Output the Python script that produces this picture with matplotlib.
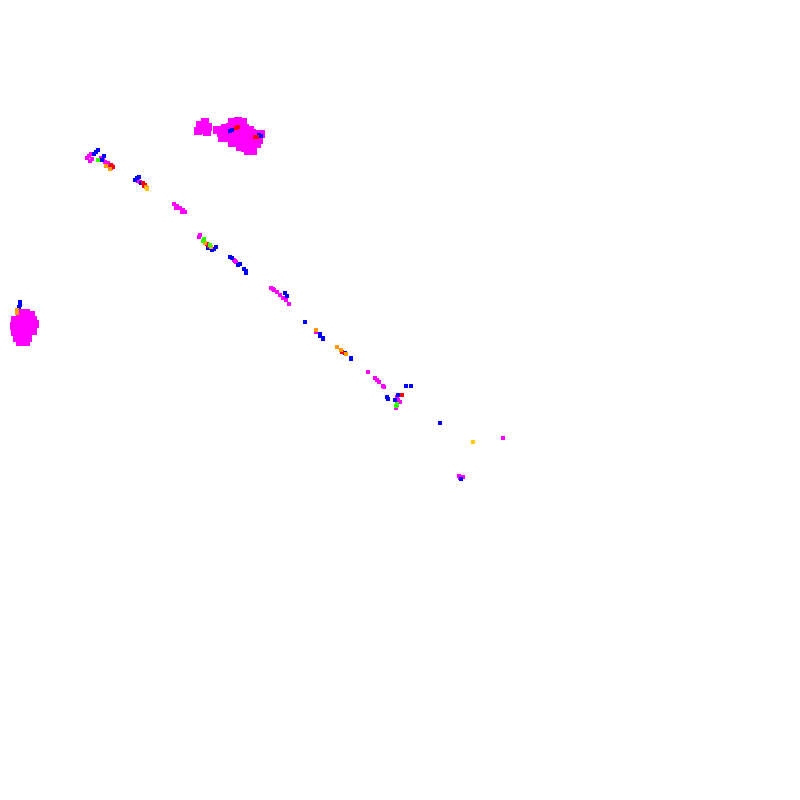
import matplotlib
matplotlib.use("Agg")
import matplotlib.pyplot as plt

# positions, in pixel units (x right, y down)
blob_x = [20, 26, 31, 15, 21, 27, 33, 14, 20, 26, 32, 35, 15, 21, 27, 33, 17, 23, 28, 20, 26,
          232, 238, 243,
          225, 230, 235, 240, 245, 250,
          221, 227, 232, 237, 242, 247, 252, 257, 261,
          222, 229, 234, 239, 244, 249, 254, 259,
          232, 237, 242, 247, 252, 257,
          240, 245, 250, 248, 253,
          200, 205, 208, 203, 198, 207, 217]
blob_y = [313, 313, 315, 320, 320, 320, 320, 326, 326, 326, 326, 324, 332, 332, 332, 331, 338, 338, 338, 342, 342,
          122, 121, 122,
          128, 127, 127, 127, 128, 130,
          133, 133, 133, 133, 133, 133, 133, 134, 134,
          138, 138, 138, 138, 138, 138, 138, 140,
          143, 143, 143, 143, 143, 144,
          147, 148, 148, 151, 151,
          125, 122, 127, 130, 131, 132, 130]

magenta_x = [87, 89, 91, 90, 92, 101, 103, 105, 108, 110, 112, 111, 109, 138, 140,
             174, 177, 180, 183, 185, 176, 182, 199, 200, 234, 236, 235,
             271, 274, 277, 280, 283, 286, 289, 273, 316, 368, 375, 377, 379, 383, 384,
             397, 398, 399, 397, 396, 400, 503, 459, 461, 463, 460]
magenta_y = [158, 156, 154, 161, 159, 158, 160, 162, 163, 165, 166, 168, 166, 181, 182,
             204, 206, 208, 210, 212, 208, 212, 237, 235, 260, 262, 261,
             288, 290, 292, 295, 298, 300, 304, 289, 332, 372, 378, 380, 382, 386, 387,
             397, 400, 402, 405, 408, 402, 438, 476, 477, 477, 478]

blue_x = [94, 96, 98, 102, 104, 135, 137, 139, 141, 208, 214, 216, 212, 230, 232, 238, 240,
          244, 246, 246, 285, 287, 305, 320, 320, 323, 323, 345, 351, 351,
          387, 388, 406, 411, 395, 398, 440, 461, 230, 232, 259, 261, 20, 20, 19]
blue_y = [154, 152, 150, 160, 156, 180, 178, 177, 183, 248, 249, 247, 250, 257, 258, 265, 264,
          269, 271, 273, 293, 296, 322, 334, 336, 338, 339, 353, 358, 359,
          397, 399, 386, 386, 400, 395, 423, 479, 131, 130, 135, 136, 302, 305, 307]

red_x = [111, 113, 143, 145, 144, 207, 209, 342, 402, 236, 238, 255, 257]
red_y = [165, 167, 183, 185, 186, 244, 246, 352, 395, 128, 127, 137, 137]

orange_x = [106, 110, 146, 147, 205, 211, 316, 337, 341, 346, 17, 17]
orange_y = [166, 169, 187, 188, 243, 247, 330, 347, 350, 354, 310, 313]

green_x = [98, 204, 203, 210, 397, 396]
green_y = [160, 239, 241, 245, 404, 406]

yellow_x = [147, 473]
yellow_y = [189, 442]

fig = plt.figure(figsize=(8, 8), dpi=100)
ax = fig.add_axes([0, 0, 1, 1])

ax.scatter(blob_x, blob_y, s=36, marker="s", color="#ff00ff", linewidths=0)
small = [
    (magenta_x, magenta_y, "#ff00ff"),
    (blue_x, blue_y, "#0000ff"),
    (red_x, red_y, "#ff0000"),
    (orange_x, orange_y, "#ff9900"),
    (green_x, green_y, "#33ff00"),
    (yellow_x, yellow_y, "#ffcc00"),
]
for xs, ys, c in small:
    ax.scatter(xs, ys, s=8, marker="s", color=c, linewidths=0)

ax.set_xlim(0, 800)
ax.set_ylim(800, 0)
ax.axis("off")

fig.savefig("out.png", dpi=100, facecolor="white")
plt.close(fig)
